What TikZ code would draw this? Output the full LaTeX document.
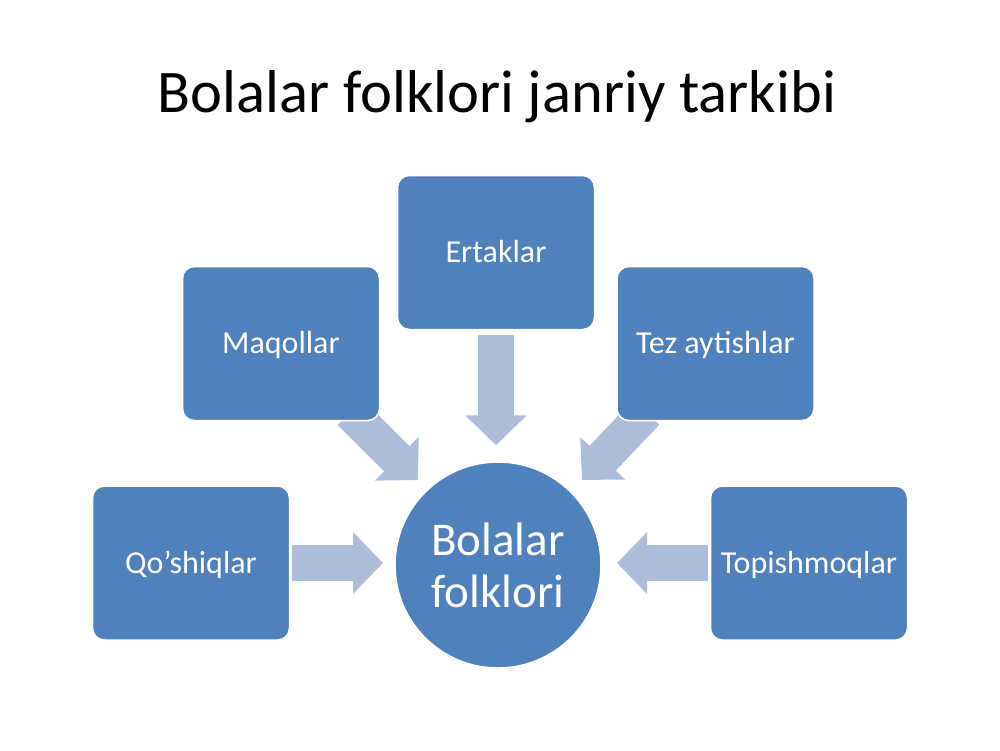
\documentclass[tikz,border=0pt]{standalone}
\usepackage{fontspec}
\setmainfont{Carlito}
\usetikzlibrary{arrows.meta,backgrounds,calc}
\definecolor{boxblue}{RGB}{79,129,189}
\definecolor{arrowblue}{RGB}{172,188,219}
\begin{document}
\begin{tikzpicture}[x=1pt,y=-1pt,
  box/.style={draw=white,line width=1.5pt,fill=boxblue,rounded corners=12pt,
    minimum width=197pt,minimum height=154pt,text=white,
    font=\fontsize{32}{38}\selectfont,inner sep=0pt,text height=20.6pt,text depth=0pt},
  hub/.style={circle,draw=white,line width=1.5pt,fill=boxblue,minimum size=206pt,
    text=white,font=\fontsize{47}{52}\selectfont,align=center,inner sep=0pt},
  flow/.style={arrowblue,line width=36pt,-{Triangle[width=60pt,length=30pt]}},
  titletext/.style={font=\fontsize{60.5}{70}\selectfont,inner sep=0pt,text height=39pt,text depth=0pt}
]
\useasboundingbox (0,0) rectangle (1000,750);

\node[titletext] (title) at (497,93) {Bolalar folklori janriy tarkibi};

\node[box] (ert) at (496,252.5) {Ertaklar};
\node[box] (maq) at (281,343.5) {Maqollar};
\node[box] (tez) at (715.5,343.5) {Tez aytishlar};
\node[box] (qos) at (191,563) {Qo’shiqlar};
\node[box] (top) at (809,563) {Topishmoqlar};
\node[hub] (hub) at (498,565) {Bolalar\\folklori};

\coordinate (tipN) at ($(hub.north)+(-2,-16)$);
\coordinate (tipNW) at (418,480);
\coordinate (tipNE) at (582,480);
\coordinate (tipW) at (383,563);
\coordinate (tipE) at (617,563);
\coordinate (tailNW) at ($(maq.south east)+(-30,-9)$);
\coordinate (tailNE) at ($(tez.south west)+(30,-9)$);

\begin{scope}[on background layer]
  \fill[white] (0,0) rectangle (1000,750);
  \draw[flow] ($(ert.south)+(0,5)$) -- (tipN);
  \draw[flow] (tailNW) -- (tipNW);
  \draw[flow] (tailNE) -- (tipNE);
  \draw[flow] ($(qos.east)+(2,0)$) -- (tipW);
  \draw[flow] ($(top.west)+(-2,0)$) -- (tipE);
\end{scope}
\end{tikzpicture}
\end{document}
